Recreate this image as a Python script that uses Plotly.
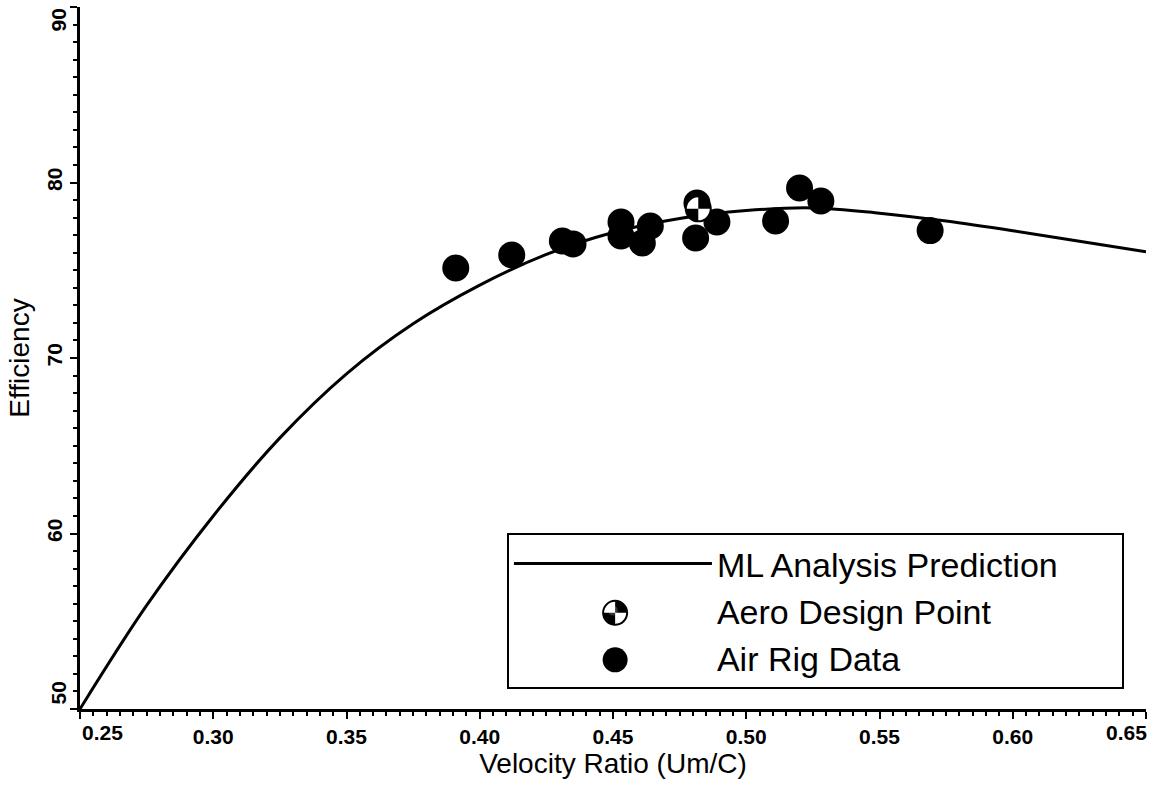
import math
import plotly.graph_objects as go

# ML analysis prediction curve
curve_x = [0.250, 0.275, 0.300, 0.325, 0.350, 0.375, 0.400, 0.425, 0.450, 0.475,
           0.500, 0.525, 0.550, 0.575, 0.600, 0.625, 0.650]
curve_y = [50.0, 55.9, 61.0, 65.45, 69.1, 71.95, 74.15, 75.9, 77.15, 77.95,
           78.4, 78.55, 78.25, 77.8, 77.25, 76.65, 76.05]

# Air rig data
rig_x = [0.391, 0.412, 0.431, 0.435, 0.453, 0.453, 0.464, 0.461, 0.4815, 0.481,
         0.489, 0.511, 0.520, 0.528, 0.569]
rig_y = [75.13, 75.87, 76.67, 76.50, 77.75, 76.95, 77.52, 76.55, 78.83, 76.84,
         77.75, 77.81, 79.69, 78.95, 77.26]

# Aero design point
design_x = [0.482]
design_y = [78.5]

x_ticks = [0.25, 0.30, 0.35, 0.40, 0.45, 0.50, 0.55, 0.60, 0.65]
x_ticktext = ["0.25", "0.30", "0.35", "0.40", "0.45", "0.50", "0.55", "0.60", "0.65"]
y_ticks = [50, 60, 70, 80, 90]
y_ticktext = ["50", "60", "70", "80", "90"]

MS = 27          # data marker diameter (px)
LEG_R = 12       # legend symbol radius (px)
LEG_X = 0.502    # legend symbol column (paper)
LEG_Y_DESIGN = 0.137
LEG_Y_RIG = 0.070


def quadrant_path(r, n=16):
    """Two opposite filled quadrants (upper-right and lower-left), pixel units."""
    parts = []
    for a0 in (0.0, math.pi):
        pts = ["M0,0"]
        for k in range(n + 1):
            a = a0 + (math.pi / 2) * k / n
            pts.append("L%.2f,%.2f" % (r * math.cos(a), r * math.sin(a)))
        pts.append("Z")
        parts.append(" ".join(pts))
    return " ".join(parts)


def px_circle(xa, ya, r, xref, yref, fill, line_w=0):
    return dict(type="circle", xref=xref, yref=yref, xsizemode="pixel", ysizemode="pixel",
                xanchor=xa, yanchor=ya, x0=-r, x1=r, y0=-r, y1=r, fillcolor=fill,
                line=dict(color="black", width=line_w), layer="above")


fig = go.Figure()
fig.add_trace(go.Scatter(x=curve_x, y=curve_y, mode="lines", name="ML Analysis Prediction",
                         line=dict(color="black", width=3, shape="spline"), legendrank=1))
fig.add_trace(go.Scatter(x=rig_x, y=rig_y, mode="markers", name="Air Rig Data",
                         marker=dict(color="black", size=MS, symbol="circle"), showlegend=False))
fig.add_trace(go.Scatter(x=design_x, y=design_y, mode="markers", name="Aero Design Point",
                         marker=dict(color="white", size=MS - 2, symbol="circle",
                                     line=dict(color="black", width=2)), showlegend=False))
# legend entries (their symbols are drawn larger by the shapes below)
fig.add_trace(go.Scatter(x=[None], y=[None], mode="markers", name="Aero Design Point",
                         marker=dict(color="white", size=10, opacity=0), legendrank=2))
fig.add_trace(go.Scatter(x=[None], y=[None], mode="markers", name="Air Rig Data",
                         marker=dict(color="black", size=10, opacity=0), legendrank=3))

shapes = [
    dict(type="path", xref="x", yref="y", xsizemode="pixel", ysizemode="pixel",
         xanchor=design_x[0], yanchor=design_y[0], path=quadrant_path((MS - 2) / 2),
         fillcolor="black", line=dict(width=0), layer="above"),
    px_circle(LEG_X, LEG_Y_DESIGN, LEG_R, "paper", "paper", "white", 2),
    dict(type="path", xref="paper", yref="paper", xsizemode="pixel", ysizemode="pixel",
         xanchor=LEG_X, yanchor=LEG_Y_DESIGN, path=quadrant_path(LEG_R),
         fillcolor="black", line=dict(width=0), layer="above"),
    px_circle(LEG_X, LEG_Y_RIG, LEG_R + 0.5, "paper", "paper", "black", 0),
]

tick_font = dict(family="Liberation Sans", size=21, color="black", weight="bold")

annotations = [
    dict(text="0.25", x=0.25, xref="x", y=0, yref="paper", yanchor="top", xanchor="center",
         yshift=-10, xshift=22, showarrow=False, font=tick_font),
    dict(text="0.65", x=1, xref="paper", y=0, yref="paper", yanchor="top", xanchor="right",
         yshift=-10, xshift=3, showarrow=False, font=tick_font),
    dict(text="50", x=0, xref="paper", y=50, yref="y", xanchor="right", yanchor="middle",
         xshift=-9, yshift=16, textangle=-90, showarrow=False, font=tick_font),
    dict(text="90", x=0, xref="paper", y=90, yref="y", xanchor="right", yanchor="middle",
         xshift=-9, yshift=-13, textangle=-90, showarrow=False, font=tick_font),
]

fig.update_layout(
    width=1154, height=788,
    margin=dict(l=80, r=8, t=7, b=79),
    paper_bgcolor="white", plot_bgcolor="white",
    font=dict(family="Liberation Sans", color="black"),
    xaxis=dict(range=[0.25, 0.65], tickvals=x_ticks,
               ticktext=[""] + x_ticktext[1:-1] + [""],
               showgrid=False, zeroline=False, showline=True, linecolor="black", linewidth=3,
               ticks="outside", ticklen=7, tickwidth=2, tickcolor="black",
               tickfont=tick_font,
               minor=dict(dtick=0.005, ticks="outside", ticklen=4, tickwidth=1.5, tickcolor="black"),
               title=dict(text="Velocity Ratio (Um/C)", font=dict(size=28), standoff=6)),
    yaxis=dict(range=[50, 90], tickvals=y_ticks,
               ticktext=[""] + y_ticktext[1:-1] + [""], tickangle=-90,
               showgrid=False, zeroline=False, showline=True, linecolor="black", linewidth=3,
               ticks="outside", ticklen=7, tickwidth=2, tickcolor="black",
               tickfont=tick_font,
               minor=dict(dtick=1, ticks="outside", ticklen=4, tickwidth=1.5, tickcolor="black"),
               title=dict(text="Efficiency", font=dict(size=28), standoff=5)),
    legend=dict(x=0.4005, y=0.251, xanchor="left", yanchor="top", orientation="h",
                bgcolor="rgba(255,255,255,0)", bordercolor="black", borderwidth=2,
                font=dict(family="Liberation Sans", size=34, color="black"),
                itemwidth=198, entrywidth=400, itemsizing="trace", traceorder="normal"),
    shapes=shapes,
    annotations=annotations,
)

# the page's default body margin would shift the 1154x788 figure; remove it
fig.write_html("out.html", config={"displayModeBar": False},
               post_script="document.body.style.margin='0';document.body.style.overflow='hidden';")
